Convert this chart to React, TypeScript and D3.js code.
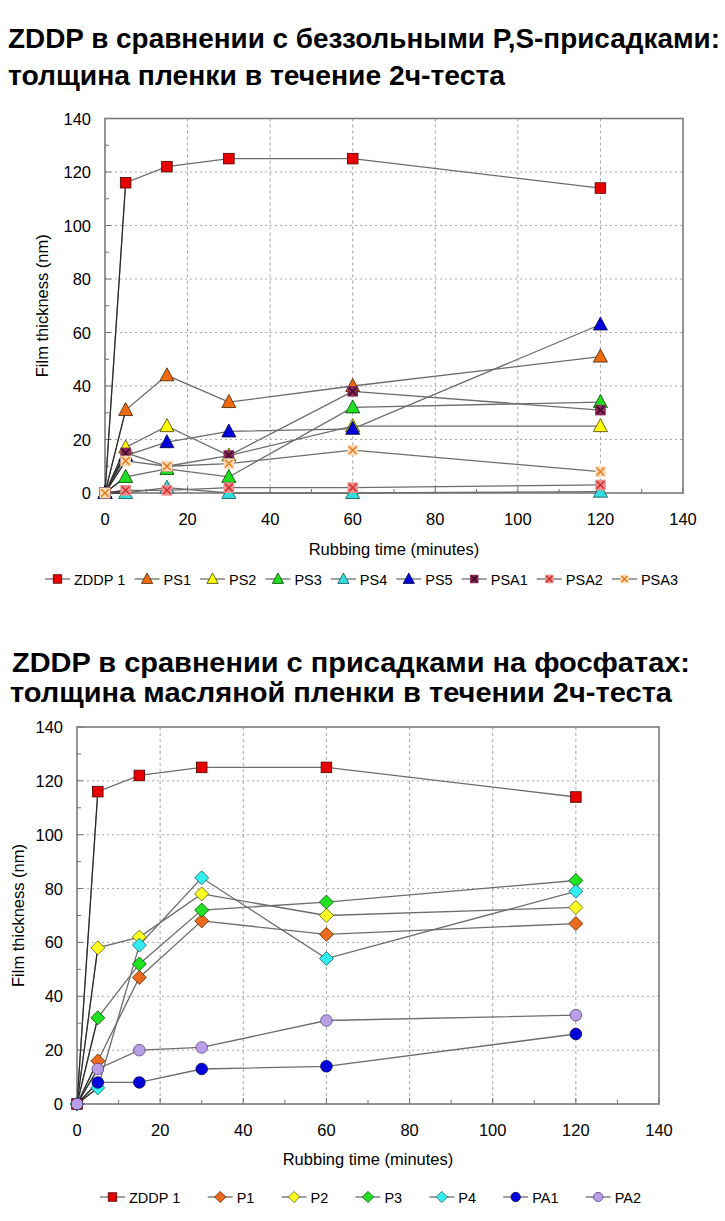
import React from "react";
import * as d3 from "d3";

// ---------- data ----------
const rubbingTimes = [0, 5, 15, 30, 60, 120];
const axisTicks = [0, 20, 40, 60, 80, 100, 120, 140];
const minorTicks = [10, 30, 50, 70, 90, 110, 130];

const title1 = ["ZDDP в сравнении с беззольными P,S-присадками:", "толщина пленки в течение 2ч-теста"];
const title2 = ["ZDDP в сравнении с присадками на фосфатах:", "толщина масляной пленки в течении 2ч-теста"];
const xAxisTitle = "Rubbing time (minutes)";
const yAxisTitle = "Film thickness (nm)";

// chart 1: ashless P,S additives
const names1 = ["ZDDP 1", "PS1", "PS2", "PS3", "PS4", "PS5", "PSA1", "PSA2", "PSA3"];
const zddp1 = [0, 116, 122, 125, 125, 114];
const ps1 = [0, 31, 44, 34, 40, 51];
const ps2 = [0, 17, 25, 14, 25, 25];
const ps3 = [0, 6, 9, 6, 32, 34];
const ps4 = [0, 0, 2, 0, 0, 0.5];
const ps5 = [0, 14, 19, 23, 24, 63];
const psa1 = [0, 15, 10, 14, 38, 31];
const psa2 = [0, 1, 1, 2, 2, 3];
const psa3 = [0, 12, 10, 11, 16, 8];
const values1 = [zddp1, ps1, ps2, ps3, ps4, ps5, psa1, psa2, psa3];

// chart 2: phosphate additives
const names2 = ["ZDDP 1", "P1", "P2", "P3", "P4", "PA1", "PA2"];
const zddp1b = [0, 116, 122, 125, 125, 114];
const p1 = [0, 16, 47, 68, 63, 67];
const p2 = [0, 58, 62, 78, 70, 73];
const p3 = [0, 32, 52, 72, 75, 83];
const p4 = [0, 6, 59, 84, 54, 79];
const pa1 = [0, 8, 8, 13, 14, 26];
const pa2 = [0, 13, 20, 21, 31, 33];
const values2 = [zddp1b, p1, p2, p3, p4, pa1, pa2];

// ---------- styles ----------
type MStyle = { shape: string; fill: string; stroke: string; cross?: string };
const markerStyles: Record<string, MStyle> = {
  "ZDDP 1": { shape: "square", fill: "#e60000", stroke: "#500000" },
  PS1: { shape: "triangle", fill: "#f06a10", stroke: "#402000" },
  PS2: { shape: "triangle", fill: "#ffff00", stroke: "#404000" },
  PS3: { shape: "triangle", fill: "#22dd22", stroke: "#004000" },
  PS4: { shape: "triangle", fill: "#33dddd", stroke: "#0a5050" },
  PS5: { shape: "triangle", fill: "#0000d8", stroke: "#000040" },
  PSA1: { shape: "xsquare", fill: "#8a2a5c", stroke: "#8a2a5c", cross: "#3a0520" },
  PSA2: { shape: "xsquare", fill: "#f08c8c", stroke: "#f08c8c", cross: "#cc2a2a" },
  PSA3: { shape: "xsquare", fill: "#fdd9b2", stroke: "#fdd9b2", cross: "#e07818" },
  P1: { shape: "diamond", fill: "#ec6a1c", stroke: "#5a2500" },
  P2: { shape: "diamond", fill: "#ffff22", stroke: "#5a5a00" },
  P3: { shape: "diamond", fill: "#22e022", stroke: "#005000" },
  P4: { shape: "diamond", fill: "#33eeee", stroke: "#106060" },
  PA1: { shape: "circle", fill: "#0000dd", stroke: "#000050" },
  PA2: { shape: "circle", fill: "#b9a0e6", stroke: "#554080" },
};

const FONT = "'Liberation Sans', Arial, sans-serif";

type Layout = {
  left: number; right: number; top: number; bottom: number;
  yTickX: number; yTitleX: number; xTickY: number; xTitleY: number;
  legendY: number; legendX0: number; legendX1: number;
  titles: { x: number; y: number; w: number }[];
};

const layout1: Layout = {
  left: 105, right: 683, top: 118.5, bottom: 493,
  yTickX: 91, yTitleX: 48, xTickY: 525, xTitleY: 555,
  legendY: 579, legendX0: 45, legendX1: 678,
  titles: [{ x: 8, y: 48, w: 712 }, { x: 8, y: 85, w: 497 }],
};
const layout2: Layout = {
  left: 77, right: 659, top: 727, bottom: 1104,
  yTickX: 63, yTitleX: 24, xTickY: 1136, xTitleY: 1165,
  legendY: 1197, legendX0: 100, legendX1: 641,
  titles: [{ x: 12, y: 672, w: 678 }, { x: 10, y: 702, w: 662 }],
};

let measureCtx: CanvasRenderingContext2D | null = null;
function textWidth(t: string, size: number) {
  if (!measureCtx) measureCtx = document.createElement("canvas").getContext("2d");
  if (!measureCtx) return t.length * size * 0.55;
  measureCtx.font = `${size}px ${FONT}`;
  return measureCtx.measureText(t).width;
}

function Marker({ name, x, y, scale = 1 }: { name: string; x: number; y: number; scale?: number }) {
  const s = markerStyles[name];
  if (s.shape === "square") {
    const h = 5.3 * scale;
    return <rect x={x - h} y={y - h} width={2 * h} height={2 * h} fill={s.fill} stroke={s.stroke} strokeWidth={0.8} />;
  }
  if (s.shape === "xsquare") {
    const h = 5.3 * scale;
    const c = 3.8 * scale;
    return (
      <g>
        <rect x={x - h} y={y - h} width={2 * h} height={2 * h} fill={s.fill} />
        <path d={`M${x - c},${y - c}L${x + c},${y + c}M${x + c},${y - c}L${x - c},${y + c}`} stroke={s.cross} strokeWidth={1.4} />
      </g>
    );
  }
  if (s.shape === "triangle") {
    const w = 7 * scale;
    const up = 7.5 * scale;
    const dn = 5.5 * scale;
    return <path d={`M${x},${y - up}L${x + w},${y + dn}L${x - w},${y + dn}Z`} fill={s.fill} stroke={s.stroke} strokeWidth={0.8} />;
  }
  if (s.shape === "diamond") {
    const r = 7 * scale;
    return <path d={`M${x},${y - r}L${x + r},${y}L${x},${y + r}L${x - r},${y}Z`} fill={s.fill} stroke={s.stroke} strokeWidth={0.8} />;
  }
  return <circle cx={x} cy={y} r={5.8 * scale} fill={s.fill} stroke={s.stroke} strokeWidth={0.8} />;
}

function Chart({ L, titles, names, values, legendSize }: { L: Layout; titles: string[]; names: string[]; values: number[][]; legendSize: number }) {
  const x = d3.scaleLinear().domain([0, 140]).range([L.left, L.right]);
  const y = d3.scaleLinear().domain([0, 140]).range([L.bottom, L.top]);
  const line = d3.line<number>().x((_, i) => x(rubbingTimes[i])).y((v) => y(v));

  // legend layout
  const symW = 25;
  const textOff = 29;
  const widths = names.map((n) => textOff + textWidth(n, legendSize));
  const total = d3.sum(widths);
  const gap = (L.legendX1 - L.legendX0 - total) / (names.length - 1);
  let cursor = L.legendX0;
  const starts = widths.map((w) => {
    const s = cursor;
    cursor += w + gap;
    return s;
  });

  return (
    <g>
      {titles.map((t, i) => (
        <text key={i} x={L.titles[i].x} y={L.titles[i].y} fontFamily={FONT} fontWeight="bold" fontSize={28}
          textLength={L.titles[i].w} lengthAdjust="spacingAndGlyphs" fill="#000">{t}</text>
      ))}
      {/* grid */}
      {axisTicks.filter((t) => t > 0 && t < 140).map((t) => (
        <line key={"gx" + t} x1={x(t)} x2={x(t)} y1={L.top} y2={L.bottom} stroke="#9a9a9a" strokeWidth={0.9} strokeDasharray="3,3" />
      ))}
      {axisTicks.filter((t) => t > 0 && t < 140).map((t) => (
        <line key={"gy" + t} x1={L.left} x2={L.right} y1={y(t)} y2={y(t)} stroke="#a8a8a8" strokeWidth={1} strokeDasharray="2,3" />
      ))}
      {/* ticks */}
      {axisTicks.map((t) => (
        <line key={"tx" + t} x1={x(t)} x2={x(t)} y1={L.bottom} y2={L.bottom - 6} stroke="#707070" strokeWidth={1} />
      ))}
      {minorTicks.map((t) => (
        <line key={"mx" + t} x1={x(t)} x2={x(t)} y1={L.bottom} y2={L.bottom - 4} stroke="#707070" strokeWidth={1} />
      ))}
      {axisTicks.map((t) => (
        <line key={"ty" + t} x1={L.left} x2={L.left + 6} y1={y(t)} y2={y(t)} stroke="#707070" strokeWidth={1} />
      ))}
      {minorTicks.map((t) => (
        <line key={"my" + t} x1={L.left} x2={L.left + 4} y1={y(t)} y2={y(t)} stroke="#707070" strokeWidth={1} />
      ))}
      <rect x={L.left} y={L.top} width={L.right - L.left} height={L.bottom - L.top} fill="none" stroke="#7a7a7a" strokeWidth={1.6} />
      {/* tick labels */}
      {axisTicks.map((t) => (
        <text key={"lx" + t} x={x(t)} y={L.xTickY} textAnchor="middle" fontFamily={FONT} fontSize={16.5} fill="#000">{t}</text>
      ))}
      {axisTicks.map((t) => (
        <text key={"ly" + t} x={L.yTickX} y={y(t) + 6} textAnchor="end" fontFamily={FONT} fontSize={16.5} fill="#000">{t}</text>
      ))}
      <text x={(L.left + L.right) / 2} y={L.xTitleY} textAnchor="middle" fontFamily={FONT} fontSize={16.5} fill="#000">{xAxisTitle}</text>
      <text transform={`translate(${L.yTitleX},${(L.top + L.bottom) / 2}) rotate(-90)`} textAnchor="middle" fontFamily={FONT} fontSize={16.5} fill="#000">{yAxisTitle}</text>
      {/* lines */}
      {values.map((vals, si) => (
        <g key={"s" + si}>
          <path d={line(vals) || ""} fill="none" stroke="#6c6c6c" strokeWidth={1.3} />
          <path d={line(vals.slice(0, 2)) || ""} fill="none" stroke="#2a2a2a" strokeWidth={1.1} />
        </g>
      ))}
      {/* markers */}
      {values.map((vals, si) => (
        <g key={"m" + si}>
          {vals.map((v, i) => (
            <Marker key={i} name={names[si]} x={x(rubbingTimes[i])} y={y(v)} />
          ))}
        </g>
      ))}
      {/* legend */}
      {names.map((n, i) => (
        <g key={"lg" + n}>
          <line x1={starts[i]} x2={starts[i] + symW} y1={L.legendY} y2={L.legendY} stroke="#6c6c6c" strokeWidth={1.3} />
          <Marker name={n} x={starts[i] + symW / 2} y={L.legendY} scale={0.8} />
          <text x={starts[i] + textOff} y={L.legendY + 5.5} fontFamily={FONT} fontSize={legendSize} fill="#000">{n}</text>
        </g>
      ))}
    </g>
  );
}

export default function App() {
  return (
    <svg width={725} height={1221} viewBox="0 0 725 1221"
      style={{ position: "absolute", left: 0, top: 0, display: "block", background: "#fff" }}>
      <rect x={0} y={0} width={725} height={1221} fill="#fff" />
      <Chart L={layout1} titles={title1} names={names1} values={values1} legendSize={14.5} />
      <Chart L={layout2} titles={title2} names={names2} values={values2} legendSize={14.5} />
    </svg>
  );
}
